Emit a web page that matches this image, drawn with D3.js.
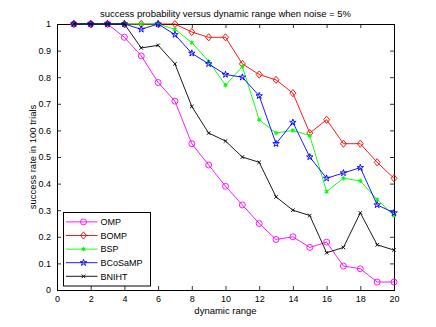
<!DOCTYPE html>
<meta charset="utf-8">
<script src="https://cdn.jsdelivr.net/npm/d3@7"></script>
<style>
body { margin: 0; background: #fff; }
text { font-family: "Liberation Sans", Arial, sans-serif; fill: #000; }
.tick text { font-size: 9px; }
.line { fill: none; stroke-width: 0.9px; }
</style>
<body>
<script>

var xs = d3.range(1, 21);

var omp     = [1, 1, 1, 0.95, 0.88, 0.78, 0.71, 0.55, 0.47, 0.39, 0.32, 0.25, 0.19, 0.20, 0.16, 0.18, 0.09, 0.08, 0.03, 0.03];
var bomp    = [1, 1, 1, 1, 1, 1, 1, 0.97, 0.95, 0.95, 0.85, 0.81, 0.79, 0.74, 0.59, 0.64, 0.55, 0.55, 0.48, 0.42];
var bsp     = [1, 1, 1, 1, 1, 1, 0.98, 0.93, 0.86, 0.77, 0.84, 0.64, 0.59, 0.60, 0.58, 0.37, 0.42, 0.41, 0.34, 0.28];
var bcosamp = [1, 1, 1, 1, 0.98, 1, 0.96, 0.89, 0.85, 0.81, 0.80, 0.73, 0.55, 0.63, 0.50, 0.42, 0.44, 0.46, 0.32, 0.29];
var bniht   = [1, 1, 1, 1, 0.91, 0.92, 0.85, 0.69, 0.59, 0.56, 0.50, 0.48, 0.35, 0.30, 0.28, 0.14, 0.16, 0.29, 0.17, 0.15];

var seriesNames = ["OMP", "BOMP", "BSP", "BCoSaMP", "BNIHT"];
var seriesColors = ["#ff00ff", "#ff0000", "#00ff00", "#0000ff", "#000000"];
var seriesMarkers = ["circle", "diamond", "asterisk", "star", "cross"];
var seriesValues = [omp, bomp, bsp, bcosamp, bniht];

var xTicks = d3.range(0, 21, 2);
var yTicks = d3.range(0, 11).map(function(d) { return d / 10; });

var width = 436, height = 327;
var margin = {left: 57, right: 42, top: 24, bottom: 37};

var svg = d3.select("body").append("svg")
    .attr("width", width)
    .attr("height", height);

var x = d3.scaleLinear().domain([0, 20]).range([margin.left, width - margin.right]);
var y = d3.scaleLinear().domain([0, 1]).range([height - margin.bottom, margin.top]);

// axes box with inward ticks (matlab style)
svg.append("g")
    .attr("transform", "translate(0," + y(0) + ")")
    .call(d3.axisBottom(x).tickValues(xTicks).tickSize(-4).tickPadding(6).tickFormat(d3.format("d")));
svg.append("g")
    .attr("transform", "translate(0," + y(1) + ")")
    .call(d3.axisTop(x).tickValues(xTicks).tickSize(-4).tickFormat(""));
svg.append("g")
    .attr("transform", "translate(" + x(0) + ",0)")
    .call(d3.axisLeft(y).tickValues(yTicks).tickSize(-4).tickPadding(6).tickFormat(function(d) { return d === 0 || d === 1 ? d3.format("d")(d) : d3.format(".1f")(d); }));
svg.append("g")
    .attr("transform", "translate(" + x(20) + ",0)")
    .call(d3.axisRight(y).tickValues(yTicks).tickSize(-4).tickFormat(""));

svg.selectAll(".domain").attr("stroke", "#000").attr("stroke-width", 1);
svg.selectAll(".tick line").attr("stroke", "#000").attr("stroke-width", 0.8);

function marker(g, type, color) {
  var s = 3;
  if (type === "circle") {
    g.append("circle").attr("r", s).attr("fill", "none").attr("stroke", color).attr("stroke-width", 0.9);
  } else if (type === "diamond") {
    g.append("path").attr("d", "M0," + (-s - 0.6) + "L" + s + ",0L0," + (s + 0.6) + "L" + (-s) + ",0Z")
      .attr("fill", "none").attr("stroke", color).attr("stroke-width", 0.9);
  } else if (type === "asterisk") {
    g.append("path").attr("d", d3.symbol().type(d3.symbolAsterisk).size(12)())
      .attr("fill", "none").attr("stroke", color).attr("stroke-width", 1.2);
  } else if (type === "star") {
    g.append("path").attr("d", d3.symbol().type(d3.symbolStar).size(13)())
      .attr("fill", "none").attr("stroke", color).attr("stroke-width", 0.9);
  } else if (type === "cross") {
    g.append("path").attr("d", d3.symbol().type(d3.symbolTimes).size(10)())
      .attr("fill", "none").attr("stroke", color).attr("stroke-width", 0.9);
  }
}

var line = d3.line()
    .x(function(d, i) { return x(xs[i]); })
    .y(function(d) { return y(d); });

seriesValues.forEach(function(vals, k) {
  var g = svg.append("g");
  g.append("path")
      .datum(vals)
      .attr("class", "line")
      .attr("stroke", seriesColors[k])
      .attr("d", line);
  g.selectAll(".pt")
      .data(vals)
      .enter().append("g")
      .attr("transform", function(d, i) { return "translate(" + x(xs[i]) + "," + y(d) + ")"; })
      .each(function() { marker(d3.select(this), seriesMarkers[k], seriesColors[k]); });
});

// legend
var lg = svg.append("g").attr("transform", "translate(63.5,212.5)");
lg.append("rect").attr("width", 87).attr("height", 73.5)
    .attr("fill", "#fff").attr("stroke", "#000").attr("stroke-width", 1);
seriesNames.forEach(function(name, k) {
  var yy = 9.4 + k * 13.6;
  lg.append("line").attr("x1", 2.5).attr("x2", 34).attr("y1", yy).attr("y2", yy)
      .attr("stroke", seriesColors[k]).attr("stroke-width", 0.9);
  var m = lg.append("g").attr("transform", "translate(20," + yy + ")");
  marker(m, seriesMarkers[k], seriesColors[k]);
  lg.append("text").attr("x", 37).attr("y", yy + 3.3).attr("font-size", "9px").text(name);
});

// title and labels
svg.append("text")
    .attr("x", (x(0) + x(20)) / 2)
    .attr("y", 17)
    .attr("text-anchor", "middle")
    .attr("font-size", "9.5px")
    .text("success probability versus dynamic range when noise = 5%");

svg.append("text")
    .attr("x", (x(0) + x(20)) / 2)
    .attr("y", 314)
    .attr("text-anchor", "middle")
    .attr("font-size", "9.5px")
    .text("dynamic range");

svg.append("text")
    .attr("transform", "translate(36," + ((y(0) + y(1)) / 2) + ") rotate(-90)")
    .attr("text-anchor", "middle")
    .attr("font-size", "9.5px")
    .text("success rate in 100 trials");

</script>
</body>
